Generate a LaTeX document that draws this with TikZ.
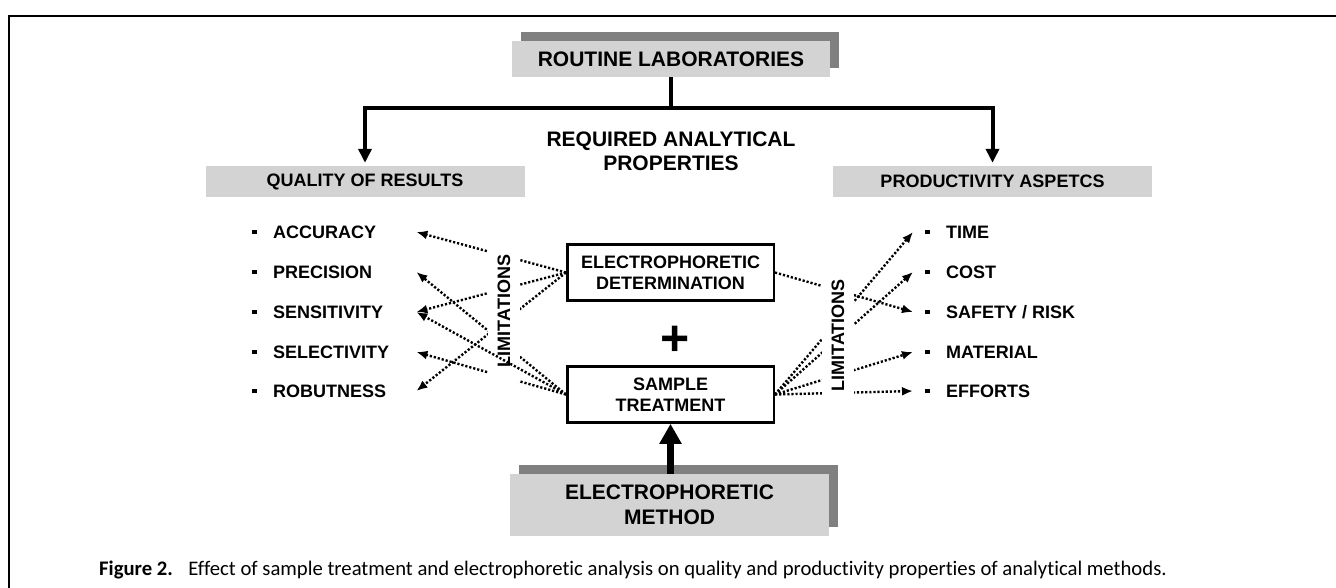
\documentclass[tikz,border=0pt]{standalone}
\usepackage{fontspec}
\setmainfont{Liberation Sans}
\newfontfamily\capfont[Ligatures=NoCommon]{Carlito}
\usetikzlibrary{arrows.meta,shadows}
\definecolor{boxgray}{RGB}{211,211,211}
\definecolor{shadegray}{RGB}{128,128,128}
\newcommand{\sqbul}{\rule[4.3pt]{4.5pt}{4.5pt}}

\begin{document}
\begin{tikzpicture}[x=1pt,y=-1pt,
  big/.style={font=\fontsize{21}{25}\selectfont\bfseries},
  mid/.style={font=\fontsize{18}{21}\selectfont\bfseries},
  raised/.style={fill=boxgray, inner sep=0pt, align=center,
    drop shadow={shadow xshift=9pt, shadow yshift=9pt, fill=shadegray, opacity=1}},
  headbox/.style={fill=boxgray, inner sep=0pt, minimum width=319pt, minimum height=31pt, mid},
  stagebox/.style={draw, line width=2.5pt, minimum width=206.5pt, minimum height=56pt,
    inner sep=0pt, align=center, mid},
  leftitem/.style={mid, anchor=west, inner sep=0pt, text width=164pt, align=left,
    text height=13pt, text depth=0pt},
  rightitem/.style={mid, anchor=west, inner sep=0pt, text height=13pt, text depth=0pt},
  limlabel/.style={mid, rotate=90, fill=white, inner xsep=15pt, inner ysep=9.5pt},
  trunk/.style={line width=4pt},
  dotarrow/.style={line width=2.4pt, dash pattern=on 2.2pt off 1.9pt, -{Latex[length=11pt,width=9pt]}}
]
\useasboundingbox (0,0) rectangle (1336,588);

% page frame
\draw[line width=2pt] (1336,16) -- (9,16) -- (9,588);

% top of the hierarchy
\node[raised, big, minimum width=318pt, minimum height=36pt] (routine) at (671,59) {ROUTINE LABORATORIES};
\node[big, align=center, font=\fontsize{21}{24}\selectfont\bfseries] (required) at (671,151) {REQUIRED ANALYTICAL\\PROPERTIES};
\node[headbox] (quality) at (365,181.5) {QUALITY OF RESULTS};
\node[headbox] (productivity) at (992.5,181.5) {PRODUCTIVITY ASPETCS};

\coordinate (bar) at (671,108);
\draw[trunk] (routine.south) -- (bar);
\draw[trunk, -{Triangle[length=14pt,width=13pt]}, shorten >=3pt] (bar) -| (quality.north);
\draw[trunk, -{Triangle[length=14pt,width=13pt]}, shorten >=3pt] (bar) -| (productivity.north);

% central stages
\node[stagebox] (det) at (670.5,272.5) {ELECTROPHORETIC\\DETERMINATION};
\node[stagebox] (treat) at (670.5,394.5) {SAMPLE\\TREATMENT};
\node[font=\fontsize{50}{50}\selectfont\bfseries, inner sep=0pt] (plus) at (675,341) {+};

% method at the bottom
\node[raised, big, minimum width=319pt, minimum height=62pt] (method) at (669.5,505) {ELECTROPHORETIC\\METHOD};
\draw[line width=7pt, -{Triangle[length=20pt,width=21pt]}] (treat.south |- method.north) -- (treat.south);

% quality properties
\node[leftitem] (acc)  at (252,232) {\sqbul\hspace{16.5pt}ACCURACY};
\node[leftitem] (prec) at (252,272) {\sqbul\hspace{16.5pt}PRECISION};
\node[leftitem] (sens) at (252,312) {\sqbul\hspace{16.5pt}SENSITIVITY};
\node[leftitem] (sel)  at (252,352) {\sqbul\hspace{16.5pt}SELECTIVITY};
\node[leftitem] (rob)  at (252,391) {\sqbul\hspace{16.5pt}ROBUTNESS};

% productivity aspects
\node[rightitem] (time) at (913,232) {\hspace*{12pt}\sqbul\hspace*{16.5pt}TIME};
\node[rightitem] (cost) at (913,272) {\hspace*{12pt}\sqbul\hspace*{16.5pt}COST};
\node[rightitem] (safe) at (913,312) {\hspace*{12pt}\sqbul\hspace*{16.5pt}SAFETY / RISK};
\node[rightitem] (mat)  at (913,352) {\hspace*{12pt}\sqbul\hspace*{16.5pt}MATERIAL};
\node[rightitem] (eff)  at (913,391) {\hspace*{12pt}\sqbul\hspace*{16.5pt}EFFORTS};

% limitation links
\draw[dotarrow] (det.west) -- (acc.east);
\draw[dotarrow] (det.west) -- (sens.east);
\draw[dotarrow] (det.west) -- (rob.east);
\draw[dotarrow] (treat.west) -- (prec.east);
\draw[dotarrow] (treat.west) -- (sel.east);
\draw[dotarrow] (det.east) -- (safe.west);
\draw[dotarrow] (treat.east) -- (time.west);
\draw[dotarrow] (treat.east) -- (cost.west);
\draw[dotarrow] (treat.east) -- (mat.west);
\draw[dotarrow] (treat.east) -- (eff.west);

\node[limlabel] (limleft) at (504,311) {LIMITATIONS};
\node[limlabel] (limright) at (838,335.5) {LIMITATIONS};

\draw[dotarrow] (treat.west) -- (sens.east);

% caption
\node[anchor=base west, inner sep=0pt, font=\capfont\fontsize{20.7}{24}\selectfont] (caption) at (99,575)
  {\textbf{Figure 2.}\hspace{0.75em}Effect of sample treatment and electrophoretic analysis on quality and productivity properties of analytical methods.};
\end{tikzpicture}
\end{document}
